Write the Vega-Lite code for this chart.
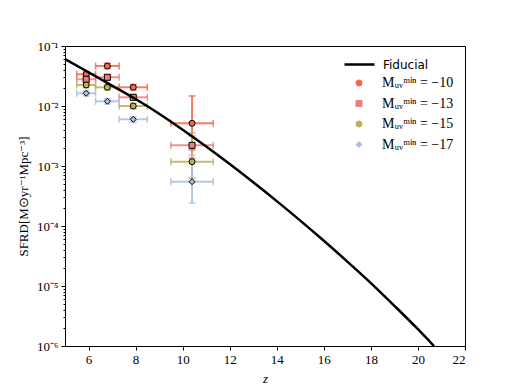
{
  "$schema": "https://vega.github.io/schema/vega-lite/v6.json",
  "width": 400,
  "height": 300,
  "autosize": "none",
  "padding": {"left": 65, "top": 46, "right": 53, "bottom": 42},
  "background": "white",
  "config": {
    "view": {"stroke": "black", "strokeWidth": 1},
    "axis": {
      "grid": false,
      "domainColor": "black",
      "tickColor": "black",
      "labelColor": "black",
      "titleColor": "black",
      "labelFont": "Liberation Serif",
      "labelFontSize": 13,
      "titleFont": "Liberation Serif",
      "titleFontSize": 13,
      "titleFontWeight": "normal"
    }
  },
  "datasets": {
    "pts": [
      {"label": "Mᵤᵥᵐⁱⁿ = −10", "z": 5.9, "zlo": 5.5, "zhi": 6.3, "y": 0.0338, "ylo": 0.0305, "yhi": 0.0375},
      {"label": "Mᵤᵥᵐⁱⁿ = −10", "z": 6.8, "zlo": 6.3, "zhi": 7.3, "y": 0.0464, "ylo": 0.042, "yhi": 0.0515},
      {"label": "Mᵤᵥᵐⁱⁿ = −10", "z": 7.9, "zlo": 7.3, "zhi": 8.5, "y": 0.0205, "ylo": 0.0185, "yhi": 0.0228},
      {"label": "Mᵤᵥᵐⁱⁿ = −10", "z": 10.4, "zlo": 9.5, "zhi": 11.3, "y": 0.00515, "ylo": 0.00185, "yhi": 0.0147},
      {"label": "Mᵤᵥᵐⁱⁿ = −13", "z": 5.9, "zlo": 5.5, "zhi": 6.3, "y": 0.0279, "ylo": 0.0252, "yhi": 0.0309},
      {"label": "Mᵤᵥᵐⁱⁿ = −13", "z": 6.8, "zlo": 6.3, "zhi": 7.3, "y": 0.0301, "ylo": 0.0272, "yhi": 0.0333},
      {"label": "Mᵤᵥᵐⁱⁿ = −13", "z": 7.9, "zlo": 7.3, "zhi": 8.5, "y": 0.01396, "ylo": 0.0126, "yhi": 0.0155},
      {"label": "Mᵤᵥᵐⁱⁿ = −13", "z": 10.4, "zlo": 9.5, "zhi": 11.3, "y": 0.00221, "ylo": 0.00135, "yhi": 0.00316},
      {"label": "Mᵤᵥᵐⁱⁿ = −15", "z": 5.9, "zlo": 5.5, "zhi": 6.3, "y": 0.0224, "ylo": 0.0202, "yhi": 0.0248},
      {"label": "Mᵤᵥᵐⁱⁿ = −15", "z": 6.8, "zlo": 6.3, "zhi": 7.3, "y": 0.0205, "ylo": 0.0185, "yhi": 0.0227},
      {"label": "Mᵤᵥᵐⁱⁿ = −15", "z": 7.9, "zlo": 7.3, "zhi": 8.5, "y": 0.01, "ylo": 0.009, "yhi": 0.0111},
      {"label": "Mᵤᵥᵐⁱⁿ = −15", "z": 10.4, "zlo": 9.5, "zhi": 11.3, "y": 0.00118, "ylo": 0.00063, "yhi": 0.00355},
      {"label": "Mᵤᵥᵐⁱⁿ = −17", "z": 5.9, "zlo": 5.5, "zhi": 6.3, "y": 0.0163, "ylo": 0.0147, "yhi": 0.018},
      {"label": "Mᵤᵥᵐⁱⁿ = −17", "z": 6.8, "zlo": 6.3, "zhi": 7.3, "y": 0.01198, "ylo": 0.0108, "yhi": 0.0133},
      {"label": "Mᵤᵥᵐⁱⁿ = −17", "z": 7.9, "zlo": 7.3, "zhi": 8.5, "y": 0.006, "ylo": 0.0054, "yhi": 0.0066},
      {"label": "Mᵤᵥᵐⁱⁿ = −17", "z": 10.4, "zlo": 9.5, "zhi": 11.3, "y": 0.000547, "ylo": 0.000242, "yhi": 0.0015}
    ],
    "fid": [
      {"name": "Fiducial", "z": 5.0, "sfrd": 0.0607},
      {"name": "Fiducial", "z": 6.0, "sfrd": 0.03656},
      {"name": "Fiducial", "z": 7.0, "sfrd": 0.02193},
      {"name": "Fiducial", "z": 8.0, "sfrd": 0.01306},
      {"name": "Fiducial", "z": 9.0, "sfrd": 0.007447},
      {"name": "Fiducial", "z": 10.0, "sfrd": 0.004027},
      {"name": "Fiducial", "z": 11.0, "sfrd": 0.002109},
      {"name": "Fiducial", "z": 12.0, "sfrd": 0.001076},
      {"name": "Fiducial", "z": 13.0, "sfrd": 0.0005358},
      {"name": "Fiducial", "z": 14.0, "sfrd": 0.00026},
      {"name": "Fiducial", "z": 15.0, "sfrd": 0.000123},
      {"name": "Fiducial", "z": 16.0, "sfrd": 0.00005675},
      {"name": "Fiducial", "z": 17.0, "sfrd": 0.00002553},
      {"name": "Fiducial", "z": 18.0, "sfrd": 0.00001119},
      {"name": "Fiducial", "z": 19.0, "sfrd": 0.000004677},
      {"name": "Fiducial", "z": 20.0, "sfrd": 0.000001905},
      {"name": "Fiducial", "z": 20.68, "sfrd": 0.000001}
    ]
  },
  "encoding": {
    "x": {
      "field": "z", "type": "quantitative",
      "scale": {"domain": [5, 22], "nice": false, "zero": false},
      "axis": {"values": [6, 8, 10, 12, 14, 16, 18, 20, 22], "tickSize": 4, "labelPadding": 3, "title": "z", "titleFontStyle": "italic", "titlePadding": 6}
    }
  },
  "layer": [
    {
      "data": {"name": "pts"},
      "mark": {"type": "rule", "strokeWidth": 2, "opacity": 0.85},
      "encoding": {
        "x": {"field": "zlo", "type": "quantitative"},
        "x2": {"field": "zhi"},
        "y": {"field": "y", "type": "quantitative"},
        "color": {"field": "label", "type": "nominal"}
      }
    },
    {
      "data": {"name": "pts"},
      "mark": {"type": "rule", "strokeWidth": 2, "opacity": 0.85},
      "encoding": {
        "y": {"field": "ylo", "type": "quantitative"},
        "y2": {"field": "yhi"},
        "color": {"field": "label", "type": "nominal"}
      }
    },
    {
      "data": {"name": "pts"},
      "mark": {"type": "tick", "orient": "vertical", "size": 7, "thickness": 1.5, "opacity": 0.85},
      "encoding": {
        "x": {"field": "zlo", "type": "quantitative"},
        "y": {"field": "y", "type": "quantitative"},
        "color": {"field": "label", "type": "nominal"}
      }
    },
    {
      "data": {"name": "pts"},
      "mark": {"type": "tick", "orient": "vertical", "size": 7, "thickness": 1.5, "opacity": 0.85},
      "encoding": {
        "x": {"field": "zhi", "type": "quantitative"},
        "y": {"field": "y", "type": "quantitative"},
        "color": {"field": "label", "type": "nominal"}
      }
    },
    {
      "data": {"name": "pts"},
      "mark": {"type": "tick", "orient": "horizontal", "size": 7, "thickness": 1.5, "opacity": 0.85},
      "encoding": {
        "y": {"field": "ylo", "type": "quantitative"},
        "color": {"field": "label", "type": "nominal"}
      }
    },
    {
      "data": {"name": "pts"},
      "mark": {"type": "tick", "orient": "horizontal", "size": 7, "thickness": 1.5, "opacity": 0.85},
      "encoding": {
        "y": {"field": "yhi", "type": "quantitative"},
        "color": {"field": "label", "type": "nominal"}
      }
    },
    {
      "data": {"name": "pts"},
      "mark": {"type": "point", "filled": true, "opacity": 1, "stroke": "black", "strokeWidth": 1, "size": 36},
      "encoding": {
        "y": {
          "field": "y", "type": "quantitative",
          "scale": {"type": "log", "domain": [0.000001, 0.1], "nice": false},
          "axis": {
            "values": [0.000001, 0.000002, 0.000003, 0.000004, 0.000005, 0.000006, 0.000007, 0.000008, 0.000009,
                       0.00001, 0.00002, 0.00003, 0.00004, 0.00005, 0.00006, 0.00007, 0.00008, 0.00009,
                       0.0001, 0.0002, 0.0003, 0.0004, 0.0005, 0.0006, 0.0007, 0.0008, 0.0009,
                       0.001, 0.002, 0.003, 0.004, 0.005, 0.006, 0.007, 0.008, 0.009,
                       0.01, 0.02, 0.03, 0.04, 0.05, 0.06, 0.07, 0.08, 0.09, 0.1],
            "labelExpr": "abs(log(datum.value)/LN10 - round(log(datum.value)/LN10)) < 0.001 ? '10' + ['⁻⁶','⁻⁵','⁻⁴','⁻³','⁻²','⁻¹'][round(log(datum.value)/LN10) + 6] : ''",
            "tickSize": {"condition": {"test": "abs(log(datum.value)/LN10 - round(log(datum.value)/LN10)) < 0.001", "value": 4}, "value": 2},
            "labelPadding": 3,
            "title": "SFRD[M⊙yr⁻¹Mpc⁻³]",
            "titlePadding": 6
          }
        },
        "color": {
          "field": "label", "type": "nominal",
          "scale": {
            "domain": ["Mᵤᵥᵐⁱⁿ = −10", "Mᵤᵥᵐⁱⁿ = −13", "Mᵤᵥᵐⁱⁿ = −15", "Mᵤᵥᵐⁱⁿ = −17"],
            "range": ["#f4664e", "#ef7f7f", "#b9b25b", "#a9c0de"]
          },
          "legend": {
            "title": null, "orient": "none", "legendX": 287, "legendY": 30,
            "labelFont": "Liberation Serif", "labelFontSize": 14, "labelColor": "black",
            "symbolSize": 36, "rowPadding": 6.5, "labelOffset": 16,
            "symbolStrokeColor": "black", "symbolStrokeWidth": 1, "symbolOpacity": 1,
            "encode": {"symbols": {
              "update": {"stroke": {"value": "black"}, "strokeWidth": {"value": 1}, "strokeOpacity": {"value": 1}, "opacity": {"value": 1}}
            }}
          }
        },
        "shape": {
          "field": "label", "type": "nominal",
          "scale": {
            "domain": ["Mᵤᵥᵐⁱⁿ = −10", "Mᵤᵥᵐⁱⁿ = −13", "Mᵤᵥᵐⁱⁿ = −15", "Mᵤᵥᵐⁱⁿ = −17"],
            "range": ["circle", "square", "circle", "diamond"]
          }
        }
      }
    },
    {
      "data": {"name": "fid"},
      "mark": {"type": "line", "strokeWidth": 2.5, "clip": true, "interpolate": "monotone"},
      "encoding": {
        "y": {"field": "sfrd", "type": "quantitative"},
        "stroke": {
          "field": "name", "type": "nominal",
          "scale": {"range": ["black"]},
          "legend": {
            "title": null, "orient": "none", "legendX": 278, "legendY": 2,
            "symbolType": "stroke", "symbolStrokeWidth": 2.5, "symbolSize": 900,
            "labelFont": "DejaVu Sans", "labelFontSize": 12, "labelColor": "black", "labelOffset": 7
          }
        }
      }
    }
  ]
}
